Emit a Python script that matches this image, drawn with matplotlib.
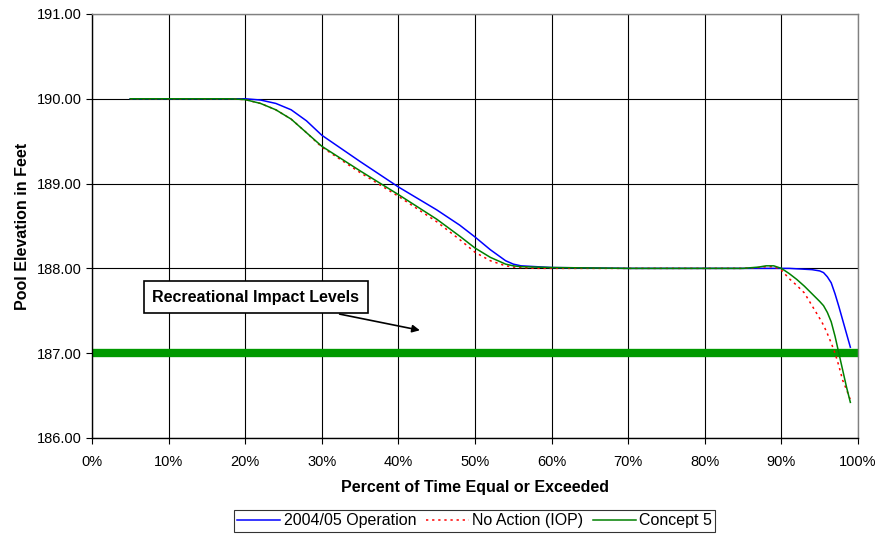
import matplotlib
matplotlib.use("Agg")
import matplotlib.pyplot as plt
from matplotlib.ticker import FuncFormatter, MultipleLocator

plt.rcParams['font.family'] = ['Liberation Sans', 'DejaVu Sans']

pct = [5, 10, 15, 18, 20, 22, 24, 26, 28, 30, 35, 40, 45, 48, 50, 52, 54, 55, 56, 58,
       60, 70, 80, 85, 87, 88, 89, 90, 91, 92, 93, 94, 95, 95.5, 96, 96.5, 97, 97.5,
       98, 98.5, 99]
op_2004 = [190.0, 190.0, 190.0, 190.0, 190.0, 189.985, 189.945, 189.87, 189.74, 189.57,
           189.26, 188.96, 188.69, 188.51, 188.37, 188.22, 188.09, 188.05, 188.03, 188.02,
           188.01, 188.0, 188.0, 188.0, 188.0, 188.0, 188.0, 188.0, 188.0, 187.995,
           187.99, 187.985, 187.97, 187.95, 187.9, 187.83, 187.7, 187.55,
           187.39, 187.23, 187.07]
no_action = [190.0, 190.0, 190.0, 190.0, 189.99, 189.945, 189.87, 189.76, 189.6, 189.43,
             189.13, 188.85, 188.55, 188.34, 188.19, 188.09, 188.03, 188.015, 188.01, 188.0,
             188.0, 188.0, 188.0, 188.0, 188.01, 188.02, 188.02, 187.98, 187.88, 187.8,
             187.71, 187.56, 187.41, 187.33, 187.23, 187.12, 187.0, 186.85,
             186.68, 186.57, 186.45]
concept5 = [190.0, 190.0, 190.0, 190.0, 189.99, 189.945, 189.87, 189.76, 189.6, 189.44,
            189.15, 188.87, 188.58, 188.38, 188.24, 188.13, 188.05, 188.03, 188.02, 188.015,
            188.01, 188.0, 188.0, 188.0, 188.015, 188.03, 188.03, 188.0, 187.94, 187.87,
            187.79, 187.7, 187.61, 187.56, 187.48, 187.37, 187.2, 187.0,
            186.8, 186.6, 186.42]
impact_level = 187.0

fig = plt.figure(figsize=(8.82, 5.37), dpi=100)
ax = fig.add_axes([0.1043, 0.1844, 0.8685, 0.7896])

ax.axhline(impact_level, color='#009900', linewidth=6, zorder=2)
ax.plot(pct, op_2004, color='#0000FF', linewidth=1.1, label='2004/05 Operation', zorder=3)
ax.plot(pct, no_action, color='#FF0000', linewidth=1.1, linestyle=(0, (1.5, 2.5)),
        label='No Action (IOP)', zorder=4)
ax.plot(pct, concept5, color='#008000', linewidth=1.1, label='Concept 5', zorder=5)

ax.set_xlim(0, 100)
ax.set_ylim(186, 191)
ax.xaxis.set_major_locator(MultipleLocator(10))
ax.yaxis.set_major_locator(MultipleLocator(1))
ax.xaxis.set_major_formatter(FuncFormatter(lambda v, p: f"{v:.0f}%"))
ax.yaxis.set_major_formatter(FuncFormatter(lambda v, p: f"{v:.2f}"))
ax.grid(True, color='black', linewidth=0.8)
ax.set_axisbelow(True)
for s in ax.spines.values():
    s.set_color('#808080')
    s.set_linewidth(1.0)
ax.spines['left'].set_color('black')
ax.spines['bottom'].set_color('black')
ax.tick_params(axis='both', labelsize=10.5, length=4, direction='out', color='black')
ax.tick_params(axis='x', pad=8.5)

ax.set_xlabel('Percent of Time Equal or Exceeded', fontsize=11.5, fontweight='bold', labelpad=8)
ax.set_ylabel('Pool Elevation in Feet', fontsize=11.5, fontweight='bold', labelpad=5)

ax.annotate('Recreational Impact Levels', xy=(42.8, 187.27), xytext=(21.4, 187.66),
            fontsize=11.5, fontweight='bold', ha='center', va='center',
            bbox=dict(boxstyle='square,pad=0.55', fc='white', ec='black', lw=1.2),
            arrowprops=dict(arrowstyle='-|>', color='black', lw=1.2, mutation_scale=11,
                            shrinkA=0, shrinkB=0),
            zorder=6)

leg = fig.legend(loc='center', bbox_to_anchor=(0.538, 0.030), ncol=3, fontsize=11.5,
                 frameon=True, fancybox=False, edgecolor='black', handlelength=2.7,
                 handletextpad=0.2, columnspacing=0.6, borderpad=0.2)
leg.get_frame().set_linewidth(0.8)

fig.savefig('out.png', dpi=100)
